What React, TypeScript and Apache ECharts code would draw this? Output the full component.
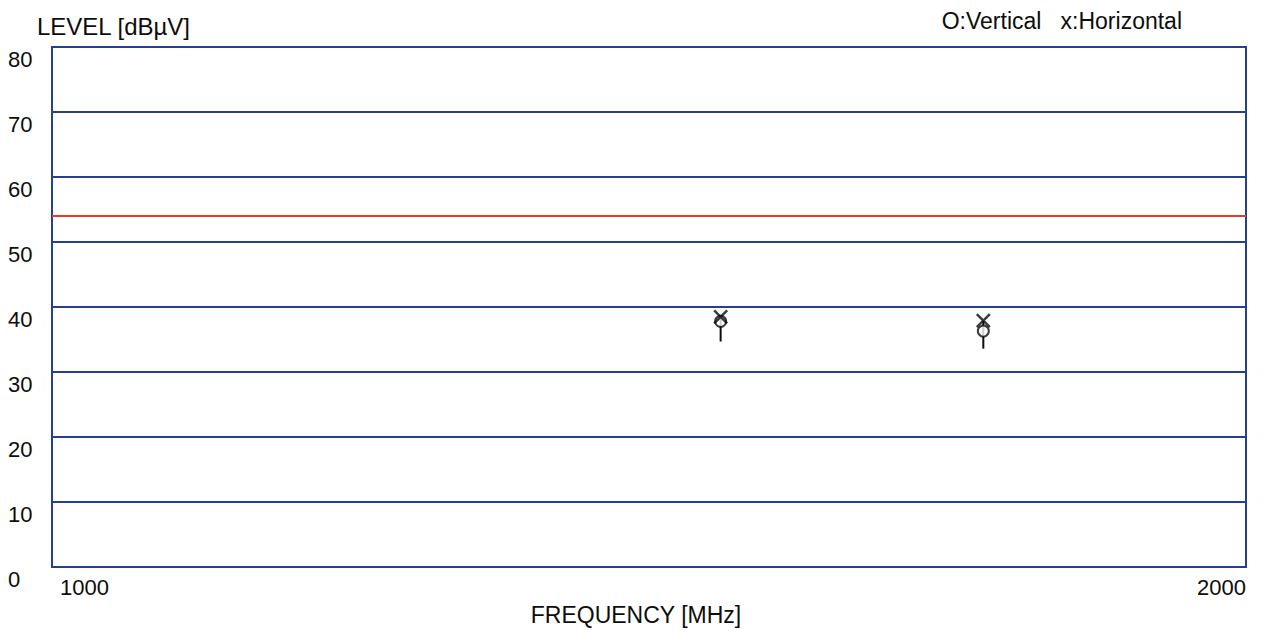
import React, { useEffect, useRef } from "react";
import * as echarts from "echarts";

const frequencies = [1560, 1780];
const verticalLevels = [37.8, 36.3];
const horizontalLevels = [38.5, 37.9];
const stemBottoms = [34.7, 33.6];
const limitFreqs = [1000, 2000];
const limitLevels = [54, 54];
const yTicks = [0, 10, 20, 30, 40, 50, 60, 70, 80];

const FONT = "'Liberation Sans', Arial, sans-serif";
const BLUE = "#24408f";
const INK = "#0d0d0d";

export default function App() {
  const ref = useRef<HTMLDivElement>(null);
  useEffect(() => {
    if (!ref.current) return;
    const chart = echarts.init(ref.current, null, { renderer: "svg" });
    chart.setOption({
      animation: false,
      backgroundColor: "#ffffff",
      textStyle: { fontFamily: FONT },
      title: {
        text: "LEVEL [dB\u00b5V]",
        left: 32,
        top: 9,
        textStyle: { fontFamily: FONT, fontSize: 24, fontWeight: "normal", color: INK },
      },
      graphic: [
        {
          type: "text",
          right: 88,
          top: 9,
          style: {
            text: "O:Vertical   x:Horizontal",
            font: `23px ${FONT}`,
            fill: INK,
          },
        },
      ],
      grid: {
        left: 52,
        right: 24,
        top: 47,
        bottom: 61,
        show: true,
        borderColor: BLUE,
        borderWidth: 2,
        backgroundColor: "transparent",
      },
      xAxis: {
        type: "value",
        min: 1000,
        max: 2000,
        interval: 1000,
        name: "FREQUENCY [MHz]",
        nameLocation: "middle",
        nameGap: 30,
        nameTextStyle: {
          fontFamily: FONT,
          fontSize: 23,
          color: INK,
          verticalAlign: "top",
          padding: [0, 26, 0, 0],
        },
        axisLine: { show: true, lineStyle: { color: BLUE, width: 2 } },
        axisTick: { show: false },
        splitLine: { show: false },
        axisLabel: {
          show: true,
          margin: 9,
          fontFamily: FONT,
          fontSize: 22,
          color: INK,
          alignMinLabel: "left",
          alignMaxLabel: "right",
          padding: [0, 0, 0, 8],
          formatter: (v: number) => String(v),
        },
      },
      yAxis: {
        type: "value",
        min: yTicks[0],
        max: yTicks[yTicks.length - 1],
        interval: 10,
        axisLine: { show: true, lineStyle: { color: BLUE, width: 2 } },
        axisTick: { show: false },
        splitLine: { show: true, lineStyle: { color: BLUE, width: 2 } },
        axisLabel: {
          margin: 44,
          align: "left",
          verticalAlign: "top",
          fontFamily: FONT,
          fontSize: 22,
          color: INK,
          padding: [1, 0, 0, 0],
        },
      },
      series: [
        {
          type: "line",
          name: "Limit",
          data: limitFreqs.map((f, i) => [f, limitLevels[i]]),
          symbol: "none",
          lineStyle: { color: "#e8392a", width: 2 },
          z: 3,
        },
        {
          type: "custom",
          name: "Stem",
          data: frequencies.map((f, i) => [f, horizontalLevels[i], stemBottoms[i]]),
          encode: { x: 0, y: [1, 2] },
          renderItem: (params: any, api: any) => {
            const p1 = api.coord([api.value(0), api.value(1)]);
            const p2 = api.coord([api.value(0), api.value(2)]);
            return {
              type: "line",
              shape: { x1: p1[0], y1: p1[1], x2: p2[0], y2: p2[1] },
              style: { stroke: INK, lineWidth: 2 },
            };
          },
          z: 4,
        },
        {
          type: "scatter",
          name: "Vertical",
          data: frequencies.map((f, i) => [f, verticalLevels[i]]),
          symbol: "emptyCircle",
          symbolSize: 11,
          itemStyle: { color: INK, borderColor: INK, borderWidth: 2.5 },
          z: 5,
        },
        {
          type: "scatter",
          name: "Horizontal",
          data: frequencies.map((f, i) => [f, horizontalLevels[i]]),
          symbol: "path://M0,0L10,10M10,0L0,10",
          symbolSize: 13,
          itemStyle: { color: "transparent", borderColor: INK, borderWidth: 2.5 },
          z: 6,
        },
      ],
    });
    return () => chart.dispose();
  }, []);
  return (
    <div
      ref={ref}
      style={{ position: "fixed", left: 0, top: 0, width: 1270, height: 631 }}
    />
  );
}
